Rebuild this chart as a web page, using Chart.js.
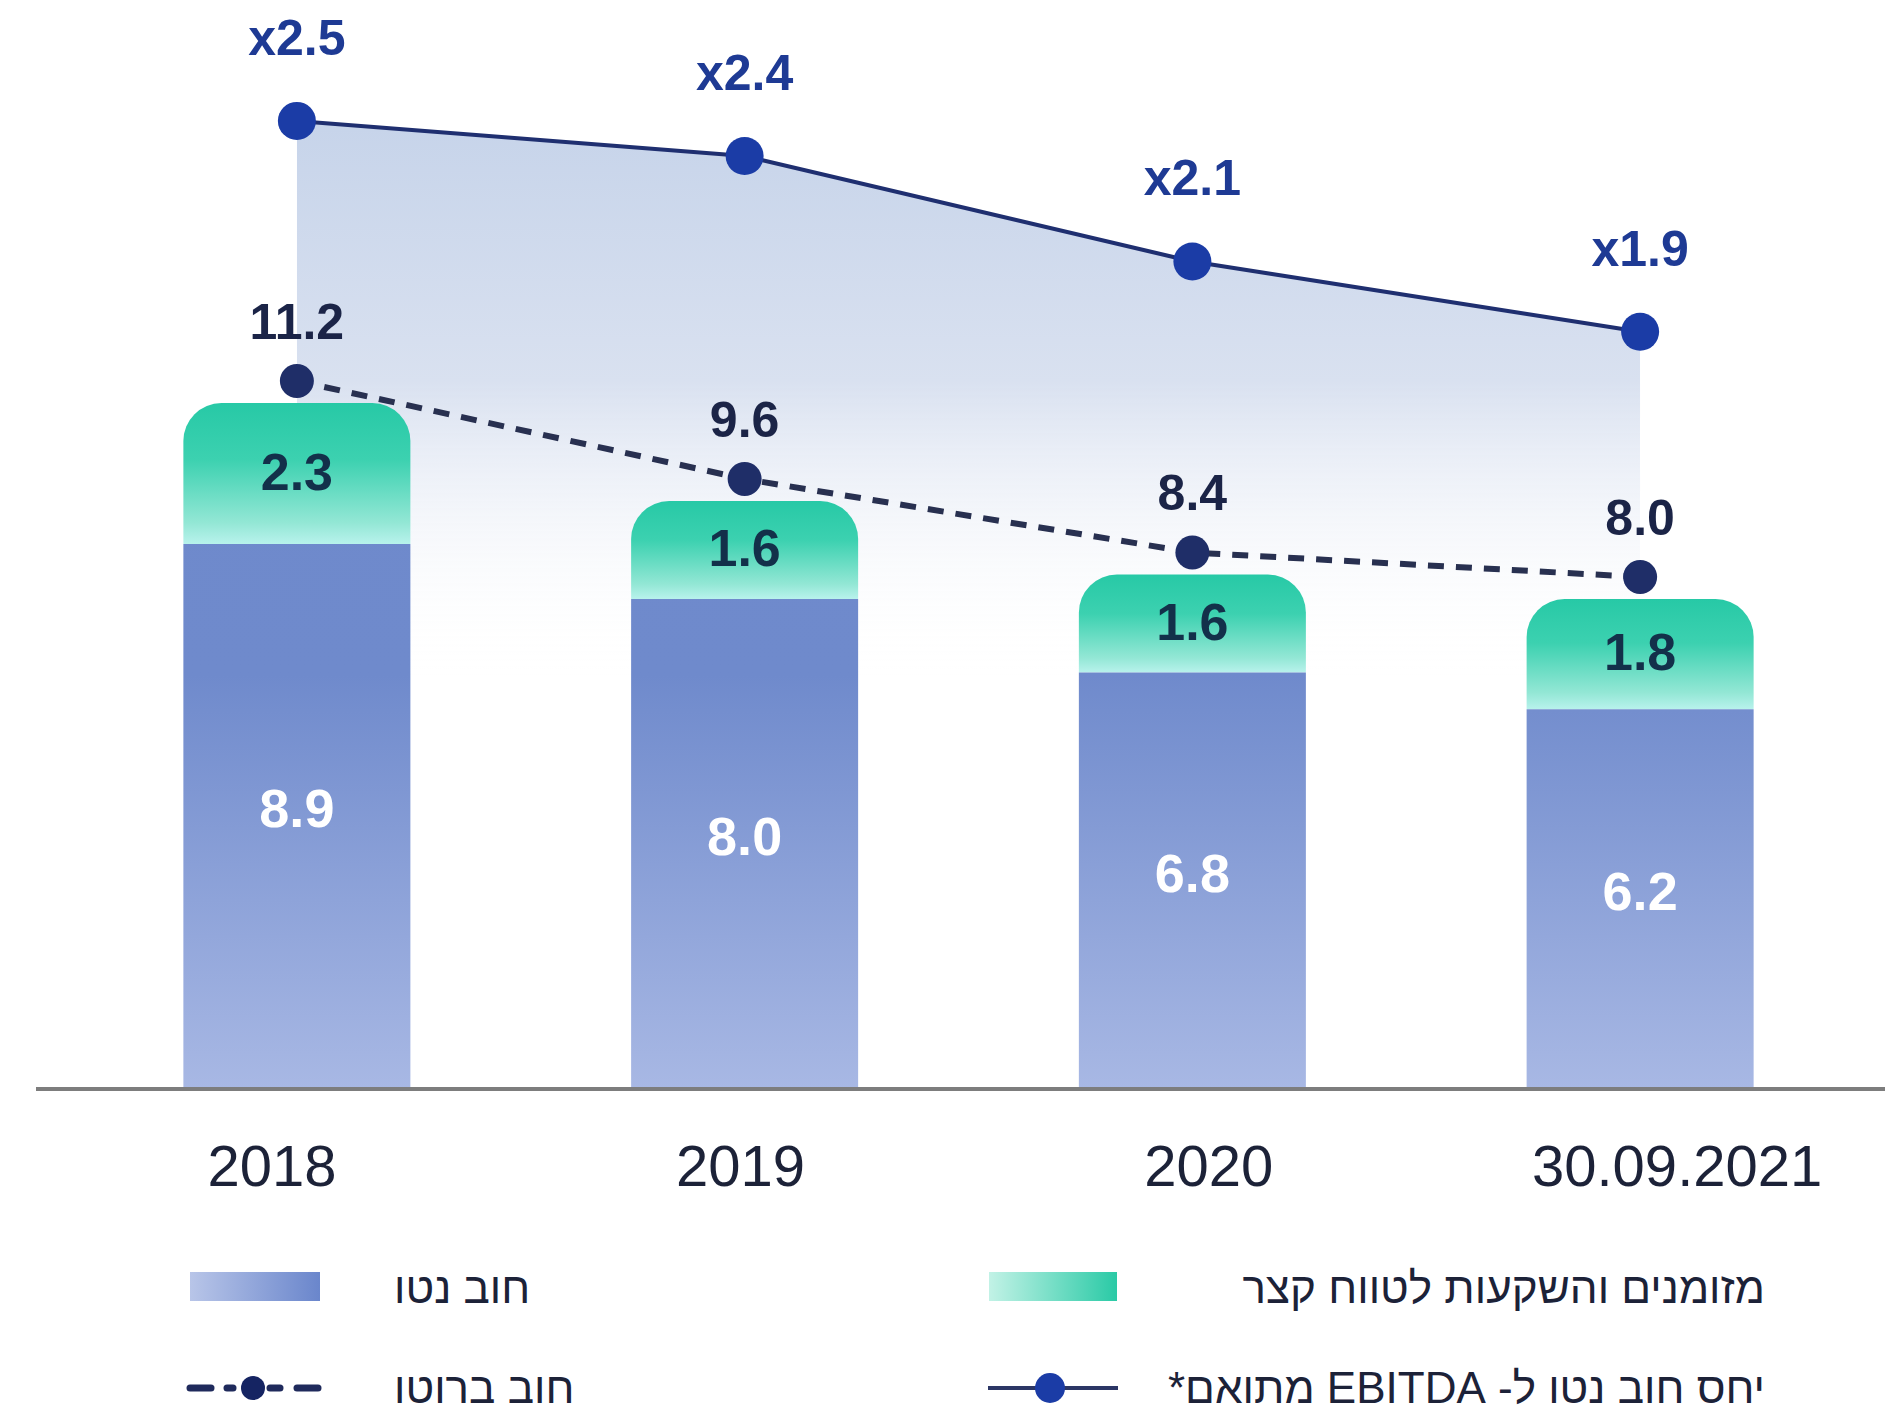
<!DOCTYPE html>
<html><head><meta charset="utf-8">
<script src="https://cdn.jsdelivr.net/npm/chart.js@4.4.1/dist/chart.umd.min.js"></script>
<style>
html,body{margin:0;padding:0;background:#fff;}
#wrap{position:relative;width:1885px;height:1407px;overflow:hidden;background:#fff;}
#c{position:absolute;left:0;top:0;}
.lg{position:absolute;font-family:'Liberation Sans Narrow','Liberation Sans',sans-serif;color:#1c2238;font-size:44px;line-height:1;white-space:nowrap;direction:rtl;transform:translateY(-50%);}
.sw{position:absolute;}
svg{position:absolute;}
</style></head><body>
<div id="wrap">
<canvas id="c" width="1885" height="1230"></canvas>
<div class="sw" style="left:190px;top:1272px;width:130px;height:29px;background:linear-gradient(to right,#b8c5e8,#6a86cc)"></div>
<div class="lg" style="left:394px;top:1288px;">חוב נטו</div>
<div class="sw" style="left:989px;top:1272px;width:128px;height:29px;background:linear-gradient(to right,#c2f2e6,#2acaa6)"></div>
<div class="lg" style="right:120px;top:1288px;">מזומנים והשקעות לטווח קצר</div>
<svg style="left:186px;top:1370px" width="140" height="36"><g stroke="#1f2a5c" stroke-width="7" stroke-linecap="round"><line x1="4" y1="18" x2="25" y2="18"/><line x1="41" y1="18" x2="47" y2="18"/><line x1="84" y1="18" x2="94" y2="18"/><line x1="111" y1="18" x2="132" y2="18"/></g><circle cx="67" cy="18" r="12" fill="#152462"/></svg>
<div class="lg" style="left:394px;top:1388px;">חוב ברוטו</div>
<svg style="left:985px;top:1370px" width="140" height="36"><line x1="3" y1="18" x2="133" y2="18" stroke="#2b3665" stroke-width="4"/><circle cx="65" cy="18" r="15" fill="#1b3ca6"/></svg>
<div class="lg" style="right:120px;top:1388px;">יחס חוב נטו ל- EBITDA מתואם*</div>
</div>
<script>
const categories = ['2018', '2019', '2020', '30.09.2021'];
const netDebt = [8.9, 8.0, 6.8, 6.2];
const cashShortTerm = [2.3, 1.6, 1.6, 1.8];
const grossDebt = [11.2, 9.6, 8.4, 8.0];
const ebitdaRatio = [2.5, 2.4, 2.1, 1.9];

const NUMFONT = "'Liberation Sans', 'DejaVu Sans', sans-serif";

function blueGrad(ctx) {
  const ch = ctx.chart, a = ch.chartArea;
  if (!a) return '#6f8acc';
  const g = ch.ctx.createLinearGradient(0, a.top, 0, a.bottom);
  g.addColorStop(0, '#6d88cb');
  g.addColorStop(0.62, '#6f8acc');
  g.addColorStop(1, '#a8b8e4');
  return g;
}
function greenGrad(ctx) {
  const ch = ctx.chart;
  if (!ch.chartArea || ctx.dataIndex === undefined) return '#2acaa6';
  const y = ch.scales.y, i = ctx.dataIndex;
  const top = y.getPixelForValue(netDebt[i] + cashShortTerm[i]);
  const bot = y.getPixelForValue(netDebt[i]);
  if (!isFinite(top) || !isFinite(bot) || top === bot) return '#2acaa6';
  const g = ch.ctx.createLinearGradient(0, top, 0, bot);
  g.addColorStop(0, '#27c9a6');
  g.addColorStop(0.4, '#3cd1b0');
  g.addColorStop(0.85, '#93e7d5');
  g.addColorStop(1, '#b8f2ec');
  return g;
}
function areaGrad(ctx) {
  const ch = ctx.chart, a = ch.chartArea;
  if (!a) return 'rgba(200,214,235,0.8)';
  const g = ch.ctx.createLinearGradient(0, a.top, 0, a.bottom);
  g.addColorStop(0.08, '#c4d2e9');
  g.addColorStop(0.35, '#d9e1f0');
  g.addColorStop(0.62, 'rgba(255,255,255,0)');
  return g;
}

const baselinePlugin = {
  id: 'baseline',
  afterDatasetsDraw(chart) {
    const c = chart.ctx;
    const y0 = chart.scales.y.getPixelForValue(0);
    c.save();
    c.strokeStyle = '#7d7d7d';
    c.lineWidth = 4;
    c.beginPath();
    c.moveTo(36, y0);
    c.lineTo(1885, y0);
    c.stroke();
    c.restore();
  }
};

const labelPlugin = {
  id: 'valueLabels',
  afterDatasetsDraw(chart) {
    const c = chart.ctx;
    c.save();
    c.textAlign = 'center';
    c.textBaseline = 'middle';
    chart.getDatasetMeta(0).data.forEach((el, i) => {
      c.font = 'bold 54px ' + NUMFONT;
      c.fillStyle = '#ffffff';
      c.fillText(netDebt[i].toFixed(1), el.x, (el.y + el.base) / 2 - 4);
    });
    chart.getDatasetMeta(1).data.forEach((el, i) => {
      c.font = 'bold 52px ' + NUMFONT;
      c.fillStyle = '#13304a';
      c.fillText(cashShortTerm[i].toFixed(1), el.x, (el.y + el.base) / 2 + 2);
    });
    chart.getDatasetMeta(2).data.forEach((el, i) => {
      c.font = 'bold 50px ' + NUMFONT;
      c.fillStyle = '#1b2447';
      c.fillText(grossDebt[i].toFixed(1), el.x, el.y - 56);
    });
    chart.getDatasetMeta(3).data.forEach((el, i) => {
      c.font = 'bold 50px ' + NUMFONT;
      c.fillStyle = '#1e3a94';
      c.fillText('x' + ebitdaRatio[i].toFixed(1), el.x, el.y - 80);
    });
    c.restore();
  }
};

new Chart(document.getElementById('c'), {
  data: {
    labels: categories,
    datasets: [
      { type: 'bar', label: 'חוב נטו', data: netDebt, backgroundColor: blueGrad, borderWidth: 0,
        categoryPercentage: 1, barPercentage: 0.507, order: 2, yAxisID: 'y' },
      { type: 'bar', label: 'מזומנים והשקעות לטווח קצר', data: cashShortTerm, backgroundColor: greenGrad, borderWidth: 0,
        borderRadius: { topLeft: 38, topRight: 38, bottomLeft: 0, bottomRight: 0 }, borderSkipped: false,
        categoryPercentage: 1, barPercentage: 0.507, order: 2, yAxisID: 'y' },
      { type: 'line', label: 'חוב ברוטו', data: grossDebt, yAxisID: 'yG', order: 1,
        borderColor: '#283050', borderWidth: 6, borderDash: [16, 12], fill: false, tension: 0,
        pointRadius: 17, pointBackgroundColor: '#1f2e68', pointBorderWidth: 0, pointHoverRadius: 17 },
      { type: 'line', label: 'יחס חוב נטו ל- EBITDA מתואם*', data: ebitdaRatio, yAxisID: 'yR', order: 0,
        borderColor: '#1f2f70', borderWidth: 4, fill: 'start', backgroundColor: areaGrad, tension: 0,
        pointRadius: 19, pointBackgroundColor: '#1b3ca6', pointBorderWidth: 0, pointHoverRadius: 19 }
    ]
  },
  options: {
    responsive: false,
    animation: false,
    events: [],
    layout: { autoPadding: false, padding: { left: 73, right: 21, top: 0, bottom: 0 } },
    plugins: {
      legend: { display: false },
      tooltip: { enabled: false },
      filler: { drawTime: 'beforeDatasetsDraw' }
    },
    scales: {
      x: { type: 'category', display: false, stacked: true, offset: true },
      xl: {
        type: 'linear', position: 'bottom', min: -0.425, max: 3.399,
        grid: { display: false, drawTicks: false }, border: { display: false },
        afterBuildTicks: (s) => { s.ticks = categories.map((_, i) => ({ value: i })); },
        afterFit: (s) => { s.height = 141; },
        ticks: { autoSkip: false, maxRotation: 0, padding: 46, color: '#1c2238',
          font: { family: NUMFONT, size: 58 },
          callback: (v) => categories[Math.round(v)] }
      },
      y: { display: false, stacked: true, min: 0, max: 17.78 },
      yG: { display: false, min: -0.359, max: 17.42 },
      yR: { display: false, min: -0.255, max: 2.844 }
    }
  },
  plugins: [baselinePlugin, labelPlugin]
});
</script>
</body></html>
